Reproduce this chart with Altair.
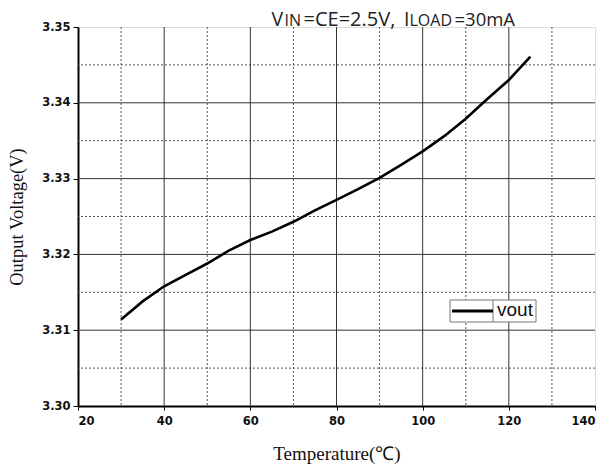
import altair as alt
import pandas as pd

# data
temps = [30, 35, 40, 45, 50, 55, 60, 65, 70, 75, 80, 85, 90, 95, 100, 105, 110, 115, 120, 125]
vout = [3.3114, 3.3138, 3.3158, 3.3173, 3.3188, 3.3205, 3.3219, 3.3230, 3.3243, 3.3258, 3.3272,
        3.3286, 3.3301, 3.3318, 3.3336, 3.3356, 3.3379, 3.3405, 3.3430, 3.3461]
series_name = "vout"

x_major = [40, 60, 80, 100, 120]
x_minor = [30, 50, 70, 90, 110, 130]
y_major = [3.31, 3.32, 3.33, 3.34]
y_minor = [3.305, 3.315, 3.325, 3.335, 3.345]
x_ticks = [20, 40, 60, 80, 100, 120, 140]
y_ticks = [3.30, 3.31, 3.32, 3.33, 3.34, 3.35]

# title pieces (small-caps style subscripts)
title_parts = ["V", "IN", "=CE=2.5V,", "I", "LOAD", "=30mA"]
title_sizes = [19.5, 16, 20, 19.5, 16, 18.5]
title_x = [193.5, 206.5, 225.5, 326, 331.5, 376.5]

df = pd.DataFrame({"T": temps, "V": vout})
one = pd.DataFrame({"a": [0]})

xs = alt.Scale(domain=[20, 140], nice=False)
ys = alt.Scale(domain=[3.30, 3.35], nice=False, zero=False)

vgrid_major = alt.Chart(pd.DataFrame({"x": x_major})).mark_rule(color="#333", strokeWidth=1).encode(
    x=alt.X("x:Q", scale=xs))
vgrid_minor = alt.Chart(pd.DataFrame({"x": x_minor})).mark_rule(color="#555", strokeWidth=1, strokeDash=[2, 2]).encode(
    x=alt.X("x:Q", scale=xs))
hgrid_major = alt.Chart(pd.DataFrame({"y": y_major})).mark_rule(color="#333", strokeWidth=1).encode(
    y=alt.Y("y:Q", scale=ys))
hgrid_minor = alt.Chart(pd.DataFrame({"y": y_minor})).mark_rule(color="#555", strokeWidth=1, strokeDash=[2, 2]).encode(
    y=alt.Y("y:Q", scale=ys))

line = alt.Chart(df).mark_line(strokeWidth=2.6, color="black").encode(
    x=alt.X("T:Q", scale=xs,
            axis=alt.Axis(title="Temperature(\u2103)", values=x_ticks, format="d", grid=False,
                          labelFont="DejaVu Sans", labelFontWeight="bold", labelFontSize=11.5,
                          labelColor="#111", labelPadding=5,
                          titleFont="Liberation Serif", titleFontWeight="normal", titleFontSize=19,
                          titleColor="#111", titlePadding=18,
                          domainColor="black", domainWidth=2, tickColor="black", tickSize=4)),
    y=alt.Y("V:Q", scale=ys,
            axis=alt.Axis(title="Output Voltage(V)", values=y_ticks, format=".2f", grid=False,
                          labelFont="DejaVu Sans", labelFontWeight="bold", labelFontSize=11.5,
                          labelColor="#111", labelPadding=3,
                          titleFont="Liberation Serif", titleFontWeight="normal", titleFontSize=18.5,
                          titleColor="#111", titlePadding=15,
                          domainColor="black", domainWidth=2, tickColor="black", tickSize=5)),
)

# legend box (drawn by hand to keep its compact boxed look)
leg_box = alt.Chart(one).mark_rect(fill="white", stroke="#777", strokeWidth=1).encode(
    x=alt.value(372), x2=alt.value(458), y=alt.value(273), y2=alt.value(295))
leg_div = alt.Chart(one).mark_rule(color="#777", strokeWidth=1).encode(
    x=alt.value(415), y=alt.value(273), y2=alt.value(295))
leg_line = alt.Chart(one).mark_rule(color="black", strokeWidth=3).encode(
    x=alt.value(374), x2=alt.value(415), y=alt.value(284))
leg_text = alt.Chart(one).mark_text(font="Liberation Sans", fontSize=19, color="#111",
                                    align="left", baseline="middle").encode(
    text=alt.value(series_name), x=alt.value(419), y=alt.value(283))

tdf = pd.DataFrame({"t": title_parts, "size": title_sizes, "px": title_x})
title = alt.Chart(tdf).mark_text(
    font="Open Sans", color="#222", align="left", baseline="alphabetic").encode(
    text="t:N",
    x=alt.X("px:Q", scale=None),
    y=alt.value(-1),
    size=alt.Size("size:Q", scale=None, legend=None),
)

chart = alt.layer(hgrid_minor, vgrid_minor, hgrid_major, vgrid_major, line,
                  leg_box, leg_div, leg_line, leg_text, title).properties(
    width=517, height=379,
    autosize=alt.AutoSizeParams(type="none"),
    padding={"left": 70, "top": 19, "right": 5, "bottom": 60},
).configure_view(stroke=None).configure(background="white")

chart.save("out.html", embed_options={"renderer": "svg", "actions": False})
